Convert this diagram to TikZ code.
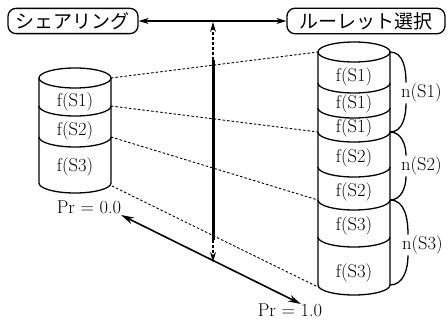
\documentclass[tikz,border=0pt]{standalone}
\usepackage{fontspec}
\newfontfamily\jpfont{Noto Sans CJK JP}
\usetikzlibrary{arrows.meta}
\begin{document}
\begin{tikzpicture}[x=1pt,y=1pt,
  lbl/.style={font=\rmfamily\fontsize{18.5}{22}\selectfont, inner sep=1pt},
  nlbl/.style={lbl, fill=white, anchor=west},
  jbox/.style={draw, line width=1.3pt, rounded corners=8pt, font=\jpfont\fontsize{19}{22}\selectfont, minimum height=24pt, inner sep=4pt},
  cyl/.style={line width=1.3pt},
  dotline/.style={line width=0.9pt, dash pattern=on 2.5pt off 2pt},
  darr/.style={line width=1.2pt, {Stealth[length=10pt,width=6pt]}-{Stealth[length=10pt,width=6pt]}},
  diag/.style={line width=1.6pt, {Stealth[length=13pt,width=7pt]}-{Stealth[length=13pt,width=7pt]}},
  varr/.style={line width=1.2pt, dash pattern=on 3pt off 2pt, -{Stealth[length=10pt,width=6pt]}},
]
\useasboundingbox (0,0) rectangle (448,-321);

% top boxes
\node[jbox, minimum width=130pt] (share) at (73,-21) {シェアリング};
\node[jbox, minimum width=158pt] (roul) at (366,-21) {ルーレット選択};
\draw[darr] (share.east) -- (roul.west);

% cylinder points
\coordinate (l0) at (111,-78);
\coordinate (l1) at (111,-106);
\coordinate (l2) at (111,-137);
\coordinate (l3) at (112,-186);
\coordinate (r0) at (318,-52);
\coordinate (r3) at (318,-132);
\coordinate (r5) at (318,-200);
\coordinate (r7) at (318,-287);
\coordinate (r0e) at (390,-52);
\coordinate (r3e) at (390,-132);
\coordinate (r5e) at (390,-200);
\coordinate (r7e) at (390,-285);

% dotted projection lines
\draw[dotline] (l0) -- (r0);
\draw[dotline] (l1) -- (r3);
\draw[dotline] (l2) -- (r5);
\draw[dotline] (l3) -- (r7);

% left cylinder
\draw[cyl, fill=white] (39,-78) -- (39,-183) arc[start angle=180,end angle=360,x radius=36,y radius=10] -- (111,-78);
\draw[cyl] (75,-78) ellipse[x radius=36,y radius=10];
\foreach \yy in {106,137}
  \draw[cyl] (39,-\yy) arc[start angle=180,end angle=360,x radius=36,y radius=10];
\node[lbl] (lf1) at (75,-102) {f(S1)};
\node[lbl] (lf2) at (75,-131) {f(S2)};
\node[lbl] (lf3) at (75,-167) {f(S3)};

% right cylinder
\draw[cyl] (318,-52) -- (318,-285) arc[start angle=180,end angle=360,x radius=36,y radius=10] -- (390,-52);
\draw[cyl] (354,-52) ellipse[x radius=36,y radius=10];
\foreach \yy in {83,108,132,167,200,237}
  \draw[cyl] (318,-\yy) arc[start angle=180,end angle=360,x radius=36,y radius=10];
\node[lbl] (rf1) at (354,-77) {f(S1)};
\node[lbl] (rf2) at (354,-104) {f(S1)};
\node[lbl] (rf3) at (354,-128) {f(S1)};
\node[lbl] (rf4) at (354,-158) {f(S2)};
\node[lbl] (rf5) at (354,-192) {f(S2)};
\node[lbl] (rf6) at (354,-226) {f(S3)};
\node[lbl] (rf7) at (354,-273) {f(S3)};

% n(S) brackets
\node[nlbl] (n1) at (400,-93) {n(S1)};
\node[nlbl] (n2) at (400,-166) {n(S2)};
\node[nlbl] (n3) at (401,-245) {n(S3)};
\draw[cyl] (r0e) to[out=0,in=90] ([xshift=6pt]n1.north west);
\draw[cyl] ([xshift=6pt]n1.south west) to[out=-90,in=0] (r3e);
\draw[cyl] (r3e) to[out=0,in=90] ([xshift=6pt]n2.north west);
\draw[cyl] ([xshift=6pt]n2.south west) to[out=-90,in=0] (r5e);
\draw[cyl] (r5e) to[out=0,in=90] ([xshift=7pt]n3.north west);
\draw[cyl] ([xshift=7pt]n3.south west) to[out=-90,in=0] (r7e);

% vertical indicator
\coordinate (vt) at (213,-60);
\coordinate (vb) at (213,-240);
\coordinate (ht) at (213,-22);
\coordinate (dt) at (213,-262);
\draw[line width=3pt] (vt) -- (vb);
\draw[varr] (vt) -- (ht);
\draw[varr] (vb) -- (dt);

% diagonal Pr axis
\coordinate (p0) at (121,-215);
\coordinate (p1) at (301,-304);
\draw[diag] (p0) -- (p1);
\node[lbl] (pr0) at (89,-207) {Pr = 0.0};
\node[lbl] (pr1) at (290,-310) {Pr = 1.0};
\end{tikzpicture}
\end{document}
